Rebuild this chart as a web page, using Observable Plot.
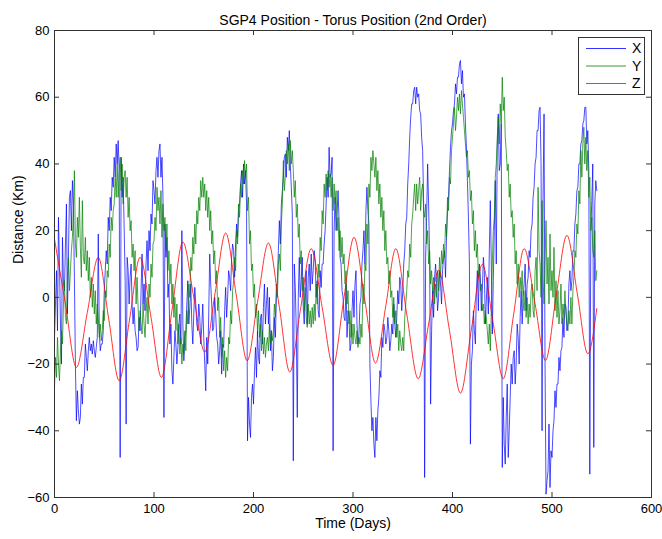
<!DOCTYPE html>
<html><head><meta charset="utf-8">
<script src="https://cdn.jsdelivr.net/npm/d3@7"></script>
<script src="https://cdn.jsdelivr.net/npm/@observablehq/plot@0.6"></script>
<style>
html,body{margin:0;padding:0;background:#fff;}
#wrap{position:relative;width:662px;height:539px;font-family:"Liberation Sans",Arial,sans-serif;}
#legend{position:absolute;left:578px;top:37px;}
</style></head><body><div id="wrap"></div>
<script>
const title = "SGP4 Position - Torus Position (2nd Order)";
const xLabel = "Time (Days)";
const yLabel = "Distance (Km)";
const xTicks = [0, 100, 200, 300, 400, 500, 600];
const yTicks = [-60, -40, -20, 0, 20, 40, 60, 80];
const seriesNames = ["X", "Y", "Z"];
const seriesColors = ["#0000ff", "#008000", "#ff0000"];
const sampleStartDay = 0, sampleStepDays = 1;

// X, one value per day (day 0 .. 545)
const xValues = [
 -12, -2, 8, -10, 24, 10, -8, -20, 18, 4, 2, 16, 28, -5, 12, 30, 32, 20, 35, 28,
 6, -20, -37, -28, -34, -38, -36, -26, -32, -24, -24, -14, -18, -22, -16, -12, -16, -14, -17, -13,
 -16, -18, -15, -12, 19, -10, -16, -14, -14, -10, 2, 8, 14, 10, 24, 20, 30, 26, 36, 33,
 42, 36, 46, 40, 47, 38, -48, 42, 30, 36, 21, 5, -38, 12, 8, -2, 6, 10, -2, -8,
 -3, -10, -12, -16, -15, -6, -10, 2, 13, -2, 4, -4, 10, 17, 8, 20, 14, 25, 22, 35,
 32, 28, 38, 42, 36, 44, 46, 36, 42, 30, -36, 22, 12, 18, 0, 4, -14, -8, -22, -26,
 -18, -10, -14, -20, -15, -8, -5, -14, 20, -8, -19, -12, -10, -2, 5, -8, -3, 4, -8, -14,
 -5, 3, -2, -8, -10, -2, -6, -14, -9, -2, -12, -20, -28, -12, -20, -5, 13, 4, -2, -10,
 -9, 0, -5, -12, -14, -20, -16, -10, -23, -14, -15, -4, 3, -6, 0, 8, 6, 2, 12, 16,
 14, 6, 16, 22, 18, 26, 28, 34, 38, 30, 40, 34, 38, 28, -43, -30, -38, -42, -30, -26,
 -32, -22, -15, -24, -10, -18, -20, -6, -5, -14, -3, 4, -8, -2, 3, -8, 0, -16, -10, -22,
 -18, -6, -12, 0, 5, 14, 23, 16, 28, 32, 36, 42, 43, 36, 48, 44, 50, 40, 33, 25,
 -49, 10, 3, -10, -36, 0, 12, 0, 5, 12, -3, -8, 4, 8, -8, 6, 10, 2, 13, 4,
 8, 14, 11, 0, 5, -4, -6, 8, 3, 10, 10, 16, 20, 28, 36, 30, 45, 36, 37, 42,
 -46, 20, 30, 20, 25, 32, 23, 12, 10, 2, 0, -6, -7, 4, -12, -4, -6, -16, -14, -4,
 2, -6, 4, 8, -8, -14, -11, -2, 0, 10, 14, 20, 10, 26, 33, 26, 22, -20, -31, -40,
 -36, -44, -48, -36, -43, -34, -30, -22, -24, -12, -15, -8, -10, -14, -12, -6, -10, -16, -13, -8,
 -11, -2, -8, -12, -6, 2, -2, 6, 4, -4, 2, 10, 14, 22, 24, 34, 40, 48, 54, 58,
 58, 62, 63, 58, 63, 60, 61, 56, 55, 48, 44, 28, -54, 12, 24, 40, 28, 12, -32, -10,
 2, -6, 6, 10, 4, -4, 0, 8, 4, -2, 8, 12, 14, 6, 18, 26, 30, 38, 45, 50,
 52, 56, 58, 64, 61, 66, 66, 70, 71, 64, 68, 60, 61, 52, 45, 35, 24, 10, -44, -20,
 -16, -4, -10, -14, 2, 8, -4, 10, 6, -4, 2, 12, 8, -8, -1, 6, -5, 14, 29, 10,
 -11, 5, 20, 35, 10, 45, 55, 38, 40, 52, -51, -30, -44, -50, -36, -26, -48, -40, -30, -20,
 -26, -18, -16, -26, -20, -8, -12, -20, -6, 2, -8, 0, 4, 10, -4, 4, 6, 14, 12, 20,
 22, 30, 33, 40, 42, 50, 50, 56, 57, 40, -40, 30, 55, -20, -59, -55, -52, -38, -57, -46,
 -48, -40, -37, -28, -33, -26, -26, -18, -22, -16, -15, -6, -12, -2, -3, -10, -8, 4, 8, 2,
 5, 14, 14, 22, 25, 32, 33, 40, 40, 46, 47, 52, 53, 57, 57, 46, 50, 38, -53, 20,
 29, 40, -45, 28, 35, 32
];

// Y, one value per day (day 0 .. 545)
const yValues = [
 -27, -18, -24, -12, -20, -25, -16, -10, -14, -2, 5, -6, -8, 6, 12, 2, 8, 14, 18, 26,
 38, 16, 12, 24, 18, 30, 15, 6, 29, 12, 10, 18, 8, 14, 5, 12, 0, 6, -3, 4,
 -5, 2, -8, -2, -6, -12, -8, -13, -10, -4, -7, 2, 0, 8, 6, 16, 12, 24, 20, 26,
 28, 36, 30, 40, 30, 38, 42, 32, 40, 28, 36, 38, 30, 36, 24, 30, 20, 23, 12, 16,
 8, 14, -2, 6, -3, -10, -4, -8, -11, -2, -8, -12, -5, 0, -8, 4, 0, 10, 6, 16,
 17, 24, 20, 33, 26, 30, 22, 32, 18, 28, 20, 24, 14, 22, 8, 14, 4, 10, -2, 4,
 -6, 0, -10, -2, -14, -8, -17, -12, -20, -14, -17, -10, -16, -4, -8, 4, 0, 12, 8, 18,
 13, 22, 16, 26, 22, 30, 26, 35, 30, 36, 30, 34, 26, 32, 24, 30, 20, 26, 16, 20,
 10, 14, 4, 8, -4, 0, -12, -6, -18, -12, -22, -16, -24, -18, -22, -12, -14, -4, -8, 2,
 5, 12, 8, 20, 16, 28, 24, 34, 30, 38, 34, 41, 36, 40, 26, 30, 16, 20, 8, 10,
 0, 4, -6, -2, -10, -4, -12, -8, -16, -10, -17, -12, -18, -14, -12, -16, -8, -14, -10, -13,
 -10, -2, -6, 4, 0, 10, 13, 8, 22, 28, 41, 32, 36, 44, 40, 46, 38, 47, 40, 44,
 38, 30, 35, 24, 28, 18, 22, 10, 14, 2, 6, -4, 3, -6, -9, -2, -8, -4, -9, -3,
 -8, -2, -7, 4, -2, 10, 6, 18, 14, 26, 22, 34, 30, 37, 32, 38, 33, 37, 30, 36,
 26, 34, 28, 32, 20, 24, 14, 20, 12, 18, 10, 13, 4, 8, -2, 2, -8, -4, -12, -8,
 -14, -8, -12, -14, -10, -15, -12, -14, -8, -12, 4, -2, 10, 8, 22, 16, 34, 30, 42, 38,
 44, 40, 36, 42, 32, 38, 28, 34, 24, 30, 20, 26, 14, 20, 10, 12, 4, 8, 0, 2,
 -6, 0, -8, -4, -12, -8, -16, -10, -14, -16, -12, -16, -6, -2, 2, 8, 6, 16, 12, 22,
 25, 30, 34, 26, 34, 28, 32, 36, 26, 32, 34, 26, 24, 28, 16, 20, 10, 14, 4, 8,
 2, 6, -2, 4, 0, 8, 2, 12, 6, 14, 10, 16, 12, 22, 18, 30, 26, 36, 34, 44,
 48, 52, 57, 50, 54, 60, 56, 61, 55, 62, 58, 54, 50, 46, 42, 44, 36, 38, 29, 32,
 22, 26, 14, 20, 12, 16, 6, 10, 2, 4, -4, -2, -8, -4, -6, -10, -14, -8, -16, -4,
 10, 20, 24, 36, 40, 48, 54, 46, 58, 52, 66, 56, 60, 48, 44, 38, 40, 30, 34, 24,
 26, 18, 22, 10, 14, 4, 10, 0, 6, 2, 8, -2, -4, 2, -6, 0, -8, -2, -6, 2,
 4, -4, -6, 8, 12, 2, 33, 14, 10, 0, 29, 6, -2, 10, 23, 4, 12, -2, 19, 2,
 8, 0, 15, -4, 5, -6, 2, -8, -4, 4, -8, -2, -6, 2, -4, -8, -10, -4, -8, 0,
 -8, 2, 6, 14, 12, 22, 19, 32, 28, 44, 36, 46, 51, 40, 48, 38, 44, 30, 36, 20,
 24, 14, 12, 20, 5, 8
];

// Z, smooth: value at its crests, troughs and mid-crossings
const zDays = [0, 11, 22, 33, 44, 54.5, 65, 75.5, 86, 97, 107.5, 118, 129, 140, 151, 161.5, 172, 183, 193.6, 204, 215, 226, 236.5, 247, 258, 269, 280, 290.5, 301, 312, 322.6, 333, 343, 354, 365.5, 376, 386, 397, 408, 419, 430, 440.5, 451, 461.5, 472, 483, 493.5, 504, 515, 525.5, 536, 545];
const zValues = [17.5, -2, -21, -4.5, 12, -6.5, -25, -6.5, 12, -6, -24, -4, 16.6, 0, -16.4, 1.5, 19.3, 0, -19, -1.5, 16.3, -3, -22.4, -4, 14.6, -3, -20.4, -1, 18, -1, -19.7, -2.5, 14.6, -5, -24.4, -8, 8.1, -10, -28.7, -9.5, 9.9, -7, -24.4, -5, 14.6, -2, -18.9, 0, 18.6, 1, -16.9, -3.4];

const xRows = xValues.map((v, i) => ({day: sampleStartDay + i * sampleStepDays, value: v}));
const yRows = yValues.map((v, i) => ({day: sampleStartDay + i * sampleStepDays, value: v}));
const zRows = zValues.map((v, i) => ({day: zDays[i], value: v}));

const W = 662, H = 539, mL = 54, mR = 11, mT = 30, mB = 42;
const fw = W - mL - mR, fh = H - mT - mB, tk = 5;
const ink = "#333";
const lw0 = 0.7;

const chart = Plot.plot({
  width: W, height: H,
  marginLeft: mL, marginRight: mR, marginTop: mT, marginBottom: mB,
  style: {fontFamily: "'Liberation Sans', Arial, sans-serif", fontSize: "13px", background: "#fff", color: "#000", overflow: "visible"},
  x: {domain: [0, 600]},
  y: {domain: [-60, 80]},
  marks: [
    Plot.line(xRows, {x: "day", y: "value", stroke: seriesColors[0], strokeWidth: lw0}),
    Plot.line(yRows, {x: "day", y: "value", stroke: seriesColors[1], strokeWidth: lw0}),
    Plot.line(zRows, {x: "day", y: "value", stroke: seriesColors[2], strokeWidth: 0.8, curve: "monotone-x"}),
    Plot.frame({stroke: ink}),
    Plot.tickX(xTicks, {x: d => d, insetTop: fh - tk, stroke: ink}),
    Plot.tickX(xTicks, {x: d => d, insetBottom: fh - tk, stroke: ink}),
    Plot.tickY(yTicks, {y: d => d, insetRight: fw - tk, stroke: ink}),
    Plot.tickY(yTicks, {y: d => d, insetLeft: fw - tk, stroke: ink}),
    Plot.axisX({ticks: xTicks, tickSize: 0, tickPadding: 6, label: null}),
    Plot.axisY({ticks: yTicks, tickSize: 0, tickPadding: 5, label: null}),
    Plot.text([title], {frameAnchor: "top", dy: -15, fontSize: 14}),
    Plot.text([xLabel], {frameAnchor: "bottom", dy: 30, fontSize: 14}),
    Plot.text([yLabel], {frameAnchor: "left", dx: -36, rotate: -90, fontSize: 14})
  ]
});
const wrap = document.getElementById("wrap");
wrap.appendChild(chart);

// legend
const lw = 67, lh = 58;
const leg = d3.select(wrap).append("div").attr("id", "legend")
  .append("svg").attr("width", lw).attr("height", lh)
  .style("font-family", "'Liberation Sans', Arial, sans-serif").style("font-size", "14px");
leg.append("rect").attr("x", 0.5).attr("y", 0.5).attr("width", lw - 1).attr("height", lh - 1)
  .attr("fill", "#fff").attr("stroke", ink);
seriesNames.forEach((name, i) => {
  const cy = 11.5 + i * 17.5;
  leg.append("line").attr("x1", 8).attr("x2", 48).attr("y1", cy).attr("y2", cy)
    .attr("stroke", seriesColors[i]).attr("stroke-width", 0.8);
  leg.append("text").attr("x", 54).attr("y", cy).attr("dy", "0.35em").text(name);
});
</script></body></html>
